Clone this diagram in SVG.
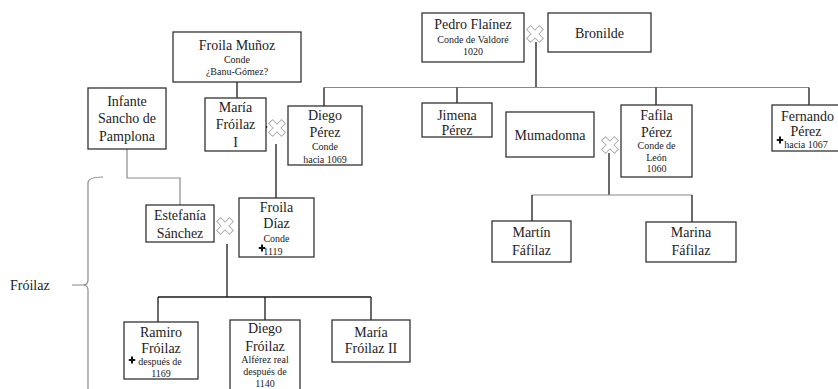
<svg xmlns="http://www.w3.org/2000/svg" xmlns:xlink="http://www.w3.org/1999/xlink" width="838" height="389" viewBox="0 0 838 389">
<style>
  .box { fill: #fff; stroke: #333; stroke-width: 1.3; }
  .n { font-family: "Liberation Serif", "Times New Roman", serif; font-size: 14px; fill: #222; text-anchor: middle; }
  .s { font-family: "Liberation Serif", "Times New Roman", serif; font-size: 10px; fill: #222; text-anchor: middle; }
  .l { font-family: "Liberation Serif", "Times New Roman", serif; font-size: 14px; fill: #222; }
  .k { fill: none; stroke: #1a1a1a; stroke-width: 1.3; }
  .g { fill: none; stroke: #8a8a8a; stroke-width: 1.2; }
  .mx { fill: #fff; stroke: #b0b0b0; stroke-width: 1; }
</style>
<defs>
  <symbol id="marr" overflow="visible">
    <path class="mx" transform="rotate(45)" d="M-2.8,-9 H2.8 V-2.8 H9 V2.8 H2.8 V9 H-2.8 V2.8 H-9 V-2.8 H-2.8 Z"/>
  </symbol>
  <symbol id="dag" overflow="visible">
    <path fill="#111" d="M-1,-3.5 H1 V-1 H3.2 V1 H1 V3.5 H-1 V1 H-3.2 V-1 H-1 Z"/>
  </symbol>
</defs>
<rect width="838" height="389" fill="#fff"/>

<g id="connectors">
  <path class="k" d="M237,82 V98"/>
  <path class="k" d="M276,144 V198"/>
  <path class="g" d="M127,149 V178 H180 V205"/>
  <path class="k" d="M536,42 V87.5"/>
  <path class="g" d="M324,87.5 H809"/>
  <path class="k" d="M324,87.5 V106"/>
  <path class="k" d="M457,87.5 V103"/>
  <path class="k" d="M656,87.5 V105"/>
  <path class="k" d="M809,87.5 V105"/>
  <path class="k" d="M609,153 V195"/>
  <path class="g" d="M532,195 H692"/>
  <path class="k" d="M532,195 V221"/>
  <path class="k" d="M692,195 V222"/>
  <path class="k" d="M227,244 V297"/>
  <path class="k" d="M158,297 H371"/>
  <path class="k" d="M158,297 V322"/>
  <path class="k" d="M265,297 V320"/>
  <path class="k" d="M371,297 V320"/>
  <use xlink:href="#marr" href="#marr" x="535" y="34"/>
  <use xlink:href="#marr" href="#marr" x="277" y="128"/>
  <use xlink:href="#marr" href="#marr" x="610" y="145"/>
  <use xlink:href="#marr" href="#marr" x="225" y="226"/>
  <use xlink:href="#dag" href="#dag" x="264" y="127"/>
</g>

<g id="brace">
  <path class="g" d="M103,177 Q88,177 88,183 V280 Q88,285 83,285 H72 M83,285 Q88,285 88,290 V389"/>
  <text class="l" x="10" y="290">Fróilaz</text>
</g>

<g id="pedro">
  <rect class="box" x="422" y="13" width="102" height="49"/>
  <text class="n" x="473" y="29">Pedro Flaínez</text>
  <text class="s" x="473" y="43">Conde de Valdoré</text>
  <text class="s" x="473" y="55">1020</text>
</g>
<g id="bronilde">
  <rect class="box" x="548" y="13" width="103" height="39"/>
  <text class="n" x="599.5" y="38">Bronilde</text>
</g>
<g id="froila-munoz">
  <rect class="box" x="173" y="32" width="128" height="50"/>
  <text class="n" x="237" y="50">Froila Muñoz</text>
  <text class="s" x="237" y="63">Conde</text>
  <text class="s" x="237" y="75">¿Banu-Gómez?</text>
</g>
<g id="infante">
  <rect class="box" x="88" y="88" width="78" height="61"/>
  <text class="n" x="127" y="106">Infante</text>
  <text class="n" x="127" y="123">Sancho de</text>
  <text class="n" x="127" y="141">Pamplona</text>
</g>
<g id="maria1">
  <rect class="box" x="205" y="98" width="61" height="53"/>
  <text class="n" x="235.5" y="112">María</text>
  <text class="n" x="235.5" y="129">Fróilaz</text>
  <text class="n" x="235.5" y="147">I</text>
</g>
<g id="diego-perez">
  <rect class="box" x="288" y="106" width="74" height="59"/>
  <text class="n" x="325" y="120">Diego</text>
  <text class="n" x="325" y="137">Pérez</text>
  <text class="s" x="325" y="150">Conde</text>
  <text class="s" x="325" y="163">hacia 1069</text>
</g>
<g id="jimena">
  <rect class="box" x="422" y="103" width="70" height="34"/>
  <text class="n" x="457" y="120">Jimena</text>
  <text class="n" x="457" y="135">Pérez</text>
</g>
<g id="mumadonna">
  <rect class="box" x="506" y="112" width="88" height="45"/>
  <text class="n" x="550" y="140">Mumadonna</text>
</g>
<g id="fafila">
  <rect class="box" x="621" y="105" width="71" height="72"/>
  <text class="n" x="656.5" y="120">Fafila</text>
  <text class="n" x="656.5" y="137">Pérez</text>
  <text class="s" x="656.5" y="149">Conde de</text>
  <text class="s" x="656.5" y="161">León</text>
  <text class="s" x="656.5" y="172">1060</text>
</g>
<g id="fernando">
  <rect class="box" x="772" y="105" width="72" height="46"/>
  <text class="n" x="807.5" y="121">Fernando</text>
  <text class="n" x="806" y="136">Pérez</text>
  <use xlink:href="#dag" href="#dag" x="780" y="140"/>
  <text class="s" x="806" y="148">hacia 1067</text>
</g>
<g id="estefania">
  <rect class="box" x="146" y="205" width="68" height="37"/>
  <text class="n" x="180" y="220">Estefanía</text>
  <text class="n" x="180" y="238">Sánchez</text>
</g>
<g id="froila-diaz">
  <rect class="box" x="239" y="198" width="75" height="59"/>
  <text class="n" x="276.5" y="212">Froila</text>
  <text class="n" x="276.5" y="228">Díaz</text>
  <text class="s" x="276.5" y="242">Conde</text>
  <use xlink:href="#dag" href="#dag" x="262" y="248"/>
  <text class="s" x="273" y="255">1119</text>
</g>
<g id="martin">
  <rect class="box" x="492" y="221" width="79" height="41"/>
  <text class="n" x="531.5" y="237">Martín</text>
  <text class="n" x="531.5" y="255">Fáfilaz</text>
</g>
<g id="marina">
  <rect class="box" x="646" y="222" width="90" height="40"/>
  <text class="n" x="691" y="237">Marina</text>
  <text class="n" x="691" y="255">Fáfilaz</text>
</g>
<g id="ramiro">
  <rect class="box" x="124" y="322" width="74" height="57"/>
  <text class="n" x="161" y="337">Ramiro</text>
  <text class="n" x="161" y="353">Fróilaz</text>
  <use xlink:href="#dag" href="#dag" x="132" y="360"/>
  <text class="s" x="160" y="365">después de</text>
  <text class="s" x="161" y="377">1169</text>
</g>
<g id="diego-froilaz">
  <rect class="box" x="230" y="320" width="70" height="75"/>
  <text class="n" x="265" y="333">Diego</text>
  <text class="n" x="265" y="351">Fróilaz</text>
  <text class="s" x="265" y="363">Alférez real</text>
  <text class="s" x="265" y="375">después de</text>
  <text class="s" x="265" y="387">1140</text>
</g>
<g id="maria2">
  <rect class="box" x="332" y="320" width="78" height="42"/>
  <text class="n" x="371" y="337">María</text>
  <text class="n" x="371" y="353">Fróilaz II</text>
</g>
</svg>
